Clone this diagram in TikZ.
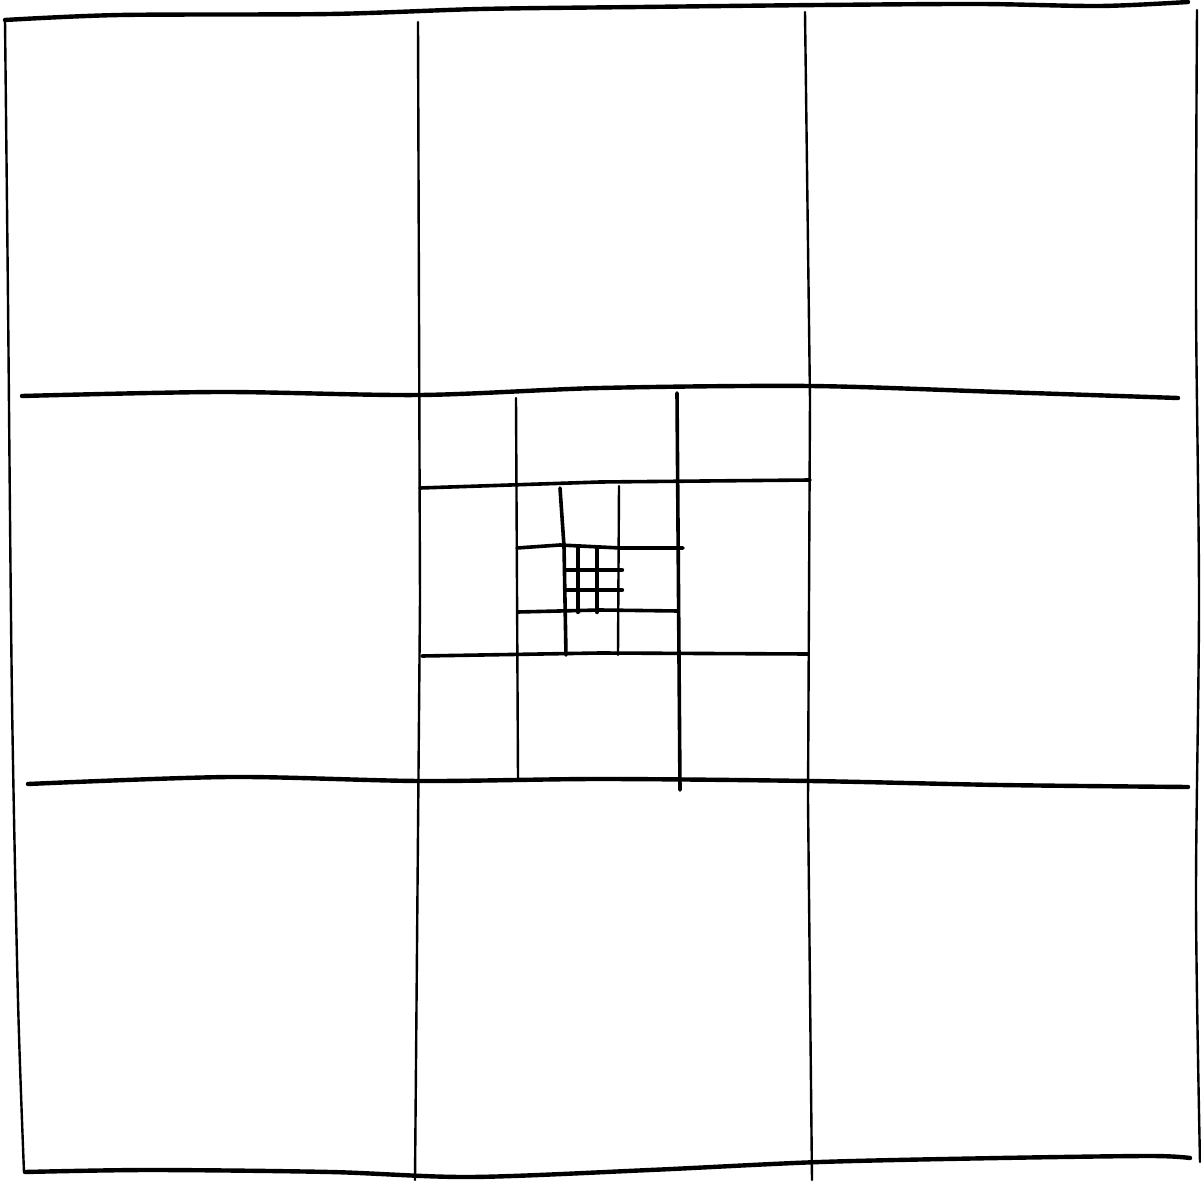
\documentclass[tikz,border=0pt]{standalone}
\usetikzlibrary{calc}
\tikzset{
  sheet/.style={x=0.5pt, y=-0.5pt},
  edge/.style={line width=2.2pt, line cap=round, line join=round}, % outer frame
  thick line/.style={line width=1.8pt, line cap=round},
  thin line/.style={line width=1.2pt, line cap=round},
  tiny line/.style={line width=2.2pt, line cap=round},
}

\begin{document}
\begin{tikzpicture}[sheet]
\useasboundingbox (0,0) rectangle (1201,1182);

% Outer frame (hand drawn, slightly wavy)
\draw[edge] plot[smooth] coordinates {(5,20) (120,15) (330,14) (480,9) (640,7) (820,5) (980,4) (1100,6) (1188,2)};
\draw[edge] plot[smooth] coordinates {(25,1172) (150,1170) (330,1172) (470,1177) (650,1170) (820,1162) (1000,1158) (1150,1156) (1190,1158)};
\draw[thin line] plot[smooth] coordinates {(5,20) (8,300) (12,700) (18,1000) (24,1172)};
\draw[thin line] plot[smooth] coordinates {(1197,10) (1196,300) (1199,600) (1196,900) (1200,1162)};

% Level 1: 3x3 grid
\draw[thin line] (418,22) -- (420,600) -- (415,1180);
\draw[thin line] (805,12) -- (810,400) -- (808,800) -- (812,1180);
\draw[edge] plot[smooth] coordinates {(22,396) (220,392) (420,395) (600,388) (810,386) (1000,392) (1178,398)};
\draw[edge] plot[smooth] coordinates {(28,784) (230,777) (420,781) (600,779) (810,781) (1000,785) (1188,787)};

% Level 2: centre cell
\draw[thin line] (516,398) -- (518,778);
\draw[thick line] (677,393) -- (680,790);
\draw[thick line] (420,488) -- (600,482) -- (810,480);
\draw[thick line] (422,656) -- (600,653) -- (808,654);

% Level 3
\draw[thick line] (560,488) -- (564,546) -- (566,655);
\draw[thin line] (619,486) -- (618,655);
\draw[thick line] (517,548) -- (560,545) -- (620,548) -- (683,548);
\draw[thick line] (518,612) -- (600,610) -- (678,611);

% Level 4
\foreach \x in {578, 597}
  {\draw[tiny line] (\x,548) -- (\x,612);}
\foreach \y in {570, 590}
  {\draw[tiny line] (565,\y) -- (622,\y);}

\end{tikzpicture}
\end{document}
